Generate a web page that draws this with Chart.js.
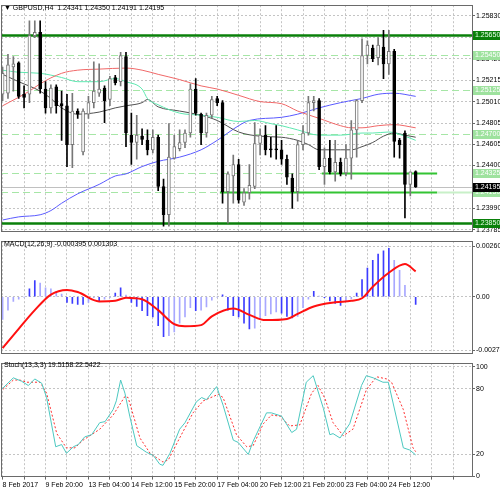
<!DOCTYPE html>
<html>
<head>
<meta charset="utf-8">
<script src="https://cdn.jsdelivr.net/npm/chart.js@4.4.0/dist/chart.umd.min.js"></script>
<style>
  body { margin: 0; background: #fff; }
  #wrap { position: relative; width: 500px; height: 490px; overflow: hidden; font-family: 'Liberation Sans', Arial, sans-serif; }
  canvas { position: absolute; left: 0; }
  .ttl { position: absolute; left: 4px; font-size: 7px; color: #000; white-space: nowrap; }
</style>
</head>
<body>
<div id="wrap">
  <canvas id="main" style="top:0px" width="500" height="236"></canvas>
  <canvas id="macd" style="top:236px" width="500" height="122"></canvas>
  <canvas id="stoch" style="top:358px" width="500" height="132"></canvas>
  <div class="ttl" style="top:4px">&#9660; GBPUSD,H4&nbsp; 1.24341 1.24350 1.24191 1.24195</div>
  <div class="ttl" style="top:240px">MACD(12,26,9) -0.000395 0.001303</div>
  <div class="ttl" style="top:361px">Stoch(13,3,3) 19.5158 22.5422</div>
</div>
<script>
// H4 candles, index 0..77
const candleOpen = [1.2508,1.2509,1.2534,1.2538,1.2508,1.2508,1.2564,1.2567,1.2513,1.2495,
  1.2515,1.2499,1.2497,1.2460,1.2492,1.2453,1.2489,1.2500,1.2509,1.2514,
  1.2503,1.2524,1.2520,1.2544,1.2469,1.2462,1.2468,1.2464,1.2455,1.2467,
  1.2420,1.2393,1.2447,1.2456,1.2462,1.2471,1.2513,1.2489,1.2471,1.2488,
  1.2504,1.2500,1.2415,1.2430,1.2441,1.2405,1.2414,1.2420,1.2461,1.2469,
  1.2456,1.2456,1.2455,1.2446,1.2428,1.2415,1.2460,1.2471,1.2500,1.2502,
  1.2439,1.2447,1.2434,1.2443,1.2433,1.2447,1.2474,1.2502,1.2545,1.2552,
  1.2543,1.2553,1.2537,1.2549,1.2464,1.2471,1.2422,1.24341];
const candleHigh = [1.2534,1.2546,1.2544,1.2539,1.2516,1.2578,1.2578,1.2578,1.2520,1.2517,
  1.2517,1.2511,1.2508,1.2509,1.2494,1.2494,1.2506,1.2539,1.2537,1.2516,
  1.2525,1.2526,1.2548,1.2548,1.2490,1.2488,1.2475,1.2474,1.2474,1.2469,
  1.2427,1.2480,1.2469,1.2474,1.2474,1.2518,1.2523,1.2490,1.2490,1.2506,
  1.2506,1.2502,1.2434,1.2450,1.2446,1.2418,1.2441,1.2481,1.2475,1.2478,
  1.2467,1.2478,1.2464,1.2450,1.2432,1.2464,1.2478,1.2506,1.2506,1.2504,
  1.2457,1.2464,1.2464,1.2447,1.2460,1.2483,1.2503,1.2561,1.2559,1.2555,
  1.2562,1.2569,1.2569,1.2551,1.2466,1.2473,1.2434,1.24350];
const candleLow = [1.2502,1.2504,1.2511,1.2504,1.2495,1.2500,1.2562,1.2509,1.2490,1.2490,
  1.2490,1.2464,1.2439,1.2438,1.2485,1.2450,1.2485,1.2495,1.2506,1.2481,
  1.2497,1.2517,1.2516,1.2458,1.2441,1.2446,1.2460,1.2450,1.2452,1.2416,
  1.2382,1.2382,1.2446,1.2454,1.2457,1.2467,1.2488,1.2460,1.2467,1.2485,
  1.2497,1.2404,1.2385,1.2404,1.2404,1.2402,1.2408,1.2418,1.2450,1.2450,
  1.2448,1.2446,1.2441,1.2422,1.2399,1.2406,1.2455,1.2469,1.2492,1.2436,
  1.2422,1.2432,1.2425,1.2430,1.2430,1.2427,1.2448,1.2500,1.2537,1.2539,
  1.2536,1.2523,1.2527,1.2448,1.2447,1.2390,1.2411,1.24191];
const candleClose = [1.2528,1.2536,1.2537,1.2506,1.2505,1.2564,1.2567,1.2513,1.2495,1.2514,
  1.2497,1.2497,1.2460,1.2492,1.2489,1.2492,1.2500,1.2511,1.2513,1.2502,
  1.2523,1.2519,1.2545,1.2471,1.2462,1.2469,1.2465,1.2455,1.2467,1.2420,
  1.2393,1.2448,1.2458,1.2462,1.2471,1.2513,1.2490,1.2471,1.2488,1.2503,
  1.2500,1.2415,1.2432,1.2441,1.2407,1.2414,1.2421,1.2461,1.2469,1.2455,
  1.2455,1.2455,1.2446,1.2429,1.2415,1.2460,1.2471,1.2500,1.2502,1.2439,
  1.2447,1.2434,1.2443,1.2432,1.2447,1.2474,1.2502,1.2545,1.2555,1.2542,
  1.2555,1.2537,1.2549,1.2463,1.2460,1.2422,1.2434,1.24195];

// moving averages, read at sample candles
const redMaX = [0,5,7,11,14,18,23,26,29,33,37,40,44,48,52,55,59,63,65,67,70,73,77];
const redMa = [1.2497,1.2511,1.2518,1.2528,1.2531,1.2532,1.2533,1.2531,1.2527,1.2522,1.2516,1.2513,1.2507,1.2501,1.2499,1.2492,1.2485,1.2478,1.2476,1.2476,1.2478,1.2479,1.2476];
const aquaMaX = [0,3,7,11,14,18,21,23,26,27,29,33,37,40,44,47,50,52,55,59,63,67,69,72,75,77];
const aquaMa = [1.2531,1.2529,1.2528,1.2524,1.2520,1.2520,1.2523,1.2520,1.2513,1.2504,1.2498,1.2490,1.2488,1.2486,1.2482,1.2483,1.2480,1.2478,1.2474,1.2469,1.2469,1.2471,1.2471,1.2472,1.2468,1.2464];
const blackMaX = [0,3,7,9,11,14,18,21,23,26,27,29,33,37,40,44,48,52,55,57,59,63,65,67,69,71,73,75,77];
const blackMa = [1.2527,1.2520,1.2511,1.2504,1.2495,1.2489,1.2491,1.2495,1.2497,1.2500,1.2503,1.2496,1.2492,1.2488,1.2483,1.2472,1.2468,1.2467,1.2464,1.2460,1.2455,1.2455,1.2455,1.2458,1.2462,1.2468,1.2471,1.2469,1.2467];
const blueMaX = [0,3,7,9,11,14,18,21,23,26,29,33,37,40,44,46,52,55,59,63,66,67,70,73,77];
const blueMa = [1.2388,1.2391,1.2393,1.2397,1.2404,1.2413,1.2422,1.2430,1.2432,1.2439,1.2444,1.2448,1.2455,1.2464,1.2478,1.2483,1.2486,1.2489,1.2495,1.2500,1.2503,1.2504,1.2508,1.2509,1.2506];

// support / resistance levels
const levelPrices = [1.25650, 1.25450, 1.25125, 1.24700, 1.24325, 1.24150, 1.23850];
const priceTicks = [1.25830,1.25625,1.25420,1.25215,1.25010,1.24805,1.24605,1.24400,1.24195,1.23990,1.23785];
const lastPrice = 1.24195;

// MACD
const macdHist = [-0.00117,-0.00069,-0.00024,-0.00013,-0.00002,0.00040,0.00083,0.00070,0.00046,0.00040,
  0.00027,0.00014,-0.00029,-0.00034,-0.00040,-0.00040,-0.00029,-0.00005,-0.00024,-0.00013,
  -0.00005,0.00019,0.00046,0.00008,-0.00029,-0.00050,-0.00072,-0.00098,-0.00104,-0.00149,
  -0.00205,-0.00200,-0.00181,-0.00136,-0.00104,-0.00056,-0.00072,-0.00069,-0.00053,-0.00018,
  -0.00002,0.00010,-0.00069,-0.00098,-0.00104,-0.00136,-0.00165,-0.00162,-0.00114,-0.00098,
  -0.00088,-0.00078,-0.00085,-0.00101,-0.00109,-0.00101,-0.00056,-0.00013,0.00027,0.00003,
  -0.00005,-0.00021,-0.00034,-0.00045,-0.00021,-0.00010,0.00019,0.00088,0.00147,0.00187,
  0.00219,0.00235,0.00248,0.00187,0.00136,0.00059,0.00003,-0.000395];
const macdSignalX = [0,3,6,9,12,14,18,21,23,26,29,32,34,37,39,43,46,49,53,55,58,62,65,67,69,72,75,77];
const macdSignal = [-0.00264,-0.00165,-0.00069,0.00011,0.00035,0.00024,-0.00024,-0.00021,-0.00005,-0.00013,-0.00069,-0.00141,-0.00152,-0.00146,-0.00101,-0.00061,-0.00093,-0.00120,-0.00114,-0.00088,-0.00050,-0.00029,-0.00021,-0.00008,0.00051,0.00123,0.00168,0.00130];
const macdTicks = [0.002602, 0, -0.002746];

// Stochastic
const stochKX = [-0.5,2.0,3.5,4.8,6.0,7.3,8.2,9.9,11.0,11.9,13.2,14.1,15.3,16.6,18.1,19.1,20.6,21.2,22.0,22.8,23.7,25.0,26.8,28.1,29.3,29.9,31.2,33.0,34.0,36.1,37.1,38.0,39.9,41.1,43.0,43.9,45.8,46.7,49.2,50.1,52.0,53.9,54.8,56.6,57.9,59.8,61.0,61.6,62.9,64.7,66.9,67.8,69.1,70.9,71.9,74.7,75.9,77];
const stochK = [78,90,87,83,89,85,72,27,29,21,27,29,36,38,49,50,61,69,88,76,55,28,22,19,11,10,21,43,49,68,72,70,82,65,33,31,20,32,58,58,55,40,43,86,92,62,38,39,35,48,83,92,90,86,86,26,24,19.5];
const stochDX = [-0.5,2.0,3.2,4.5,7.0,8.2,10.1,11.9,13.5,15.0,18.1,20.6,22.8,23.4,25.6,27.5,29.9,30.9,33.0,35.5,37.4,39.3,40.2,41.1,43.6,45.5,46.7,48.6,50.1,51.7,53.5,55.4,57.6,58.8,60.1,61.6,63.5,65.3,67.8,69.7,71.6,72.5,74.7,76.5,77];
const stochD = [77,88,88,86,86,76,39,26,26,33,43,56,73,72,35,21,13,15,35,58,69,73,75,72,38,27,28,48,56,55,46,47,76,83,71,49,37,43,79,91,89,86,61,26,22.5];
const stochTicks = [100, 80, 20, 0];

const timeLabels = ['8 Feb 2017','9 Feb 20:00','13 Feb 04:00','14 Feb 12:00','15 Feb 20:00','17 Feb 04:00','20 Feb 12:00','21 Feb 20:00','23 Feb 04:00','24 Feb 12:00'];

const X_MIN = -0.3, X_MAX = 87.5;
const FONT = { family: "'Liberation Sans', Arial, sans-serif", size: 7 };

const pts = (xs, ys) => xs.map((x, i) => ({ x: x, y: ys[i] }));
const idx = candleOpen.map((v, i) => i);
const isBull = i => candleClose[i] >= candleOpen[i];

const framePlugin = {
  id: 'frame',
  afterDraw(chart) {
    const a = chart.chartArea, ctx = chart.ctx;
    ctx.save();
    ctx.strokeStyle = '#6a6a6a';
    ctx.lineWidth = 1;
    ctx.strokeRect(Math.round(a.left) + 0.5, Math.round(a.top) + 0.5, Math.round(a.right - a.left), Math.round(a.bottom - a.top));
    ctx.restore();
  }
};

function xAxis(showLabels) {
  return {
    type: 'linear', min: X_MIN, max: X_MAX, offset: false,
    afterBuildTicks: s => { const t = []; for (let v = 0; v <= 84; v += 4) t.push({ value: v }); s.ticks = t; },
    grid: { color: '#c4c4c4', drawTicks: showLabels, tickLength: 3, tickColor: '#666', offset: false },
    border: { display: false, dash: [2, 2] },
    ticks: {
      display: showLabels, autoSkip: false, maxRotation: 0, align: 'start', padding: 1,
      color: '#000', font: FONT,
      callback: v => (v % 8 === 0 ? (timeLabels[v / 8] || '') : '')
    }
  };
}

function yAxis(min, max, tickList, fmt) {
  return {
    position: 'right', min: min, max: max,
    afterBuildTicks: s => { s.ticks = tickList.map(v => ({ value: v })); },
    afterFit: s => { s.width = 28; },
    grid: { color: '#c4c4c4', tickLength: 3, tickColor: '#666' },
    border: { display: false, dash: [2, 2] },
    ticks: { color: '#000', font: FONT, padding: 1, callback: fmt }
  };
}

// level lines and price tags on the main pane
const levelsPlugin = {
  id: 'levels',
  beforeDatasetsDraw(chart) {
    const ctx = chart.ctx, xs = chart.scales.x, ys = chart.scales.y, a = chart.chartArea;
    const line = (p, x0, x1, color, w, dash) => {
      const y = Math.round(ys.getPixelForValue(p)) + 0.5;
      ctx.save();
      ctx.beginPath();
      ctx.strokeStyle = color; ctx.lineWidth = w; ctx.setLineDash(dash);
      ctx.moveTo(x0, y); ctx.lineTo(x1, y); ctx.stroke();
      ctx.restore();
    };
    const solidFrom = [null, null, null, null, 59.5, 40.5, null];
    levelPrices.forEach((p, k) => {
      if (k === 0 || k === 6) { line(p, a.left, a.right, '#0a800a', 2.5, []); return; }
      if (solidFrom[k] === null) { line(p, a.left, a.right, '#a6e6a6', 1, [7, 4]); return; }
      const xs0 = xs.getPixelForValue(solidFrom[k]), xs1 = xs.getPixelForValue(81);
      line(p, a.left, xs0, '#a6e6a6', 1, [7, 4]);
      line(p, xs0, xs1, '#33c433', 2, []);
      if (k === 5) line(p, xs1, a.right, '#c8f0c8', 2, []);
    });
    line(lastPrice, a.left, a.right, '#c0c0c0', 1, []);
  },
  afterDraw(chart) {
    const ctx = chart.ctx, ys = chart.scales.y, a = chart.chartArea;
    const tag = (p, bg, fg) => {
      const y = Math.round(ys.getPixelForValue(p));
      ctx.save();
      ctx.fillStyle = bg;
      ctx.fillRect(a.right + 1, y - 4, 27, 9);
      ctx.fillStyle = fg;
      ctx.font = "7px 'Liberation Sans', Arial, sans-serif";
      ctx.textBaseline = 'middle';
      ctx.fillText(p.toFixed(5), a.right + 3, y + 0.5);
      ctx.restore();
    };
    levelPrices.forEach((p, k) => {
      const dark = (k === 0 || k === 6);
      tag(p, dark ? '#0a800a' : '#9ee29e', dark ? '#e8ffe8' : '#ffffff');
    });
    tag(lastPrice, '#000000', '#ffffff');
  }
};

new Chart(document.getElementById('main'), {
  type: 'bar',
  data: {
    datasets: [
      { type: 'line', data: pts(redMaX, redMa), borderColor: '#f06868', borderWidth: 1, pointRadius: 0, cubicInterpolationMode: 'monotone', order: 5 },
      { type: 'line', data: pts(aquaMaX, aquaMa), borderColor: '#5ee8b0', borderWidth: 1, pointRadius: 0, cubicInterpolationMode: 'monotone', order: 5 },
      { type: 'line', data: pts(blackMaX, blackMa), borderColor: '#505050', borderWidth: 1, pointRadius: 0, cubicInterpolationMode: 'monotone', order: 5 },
      { type: 'line', data: pts(blueMaX, blueMa), borderColor: '#5a5aff', borderWidth: 1, pointRadius: 0, cubicInterpolationMode: 'monotone', order: 5 },
      { data: idx.map(i => ({ x: i, y: [candleLow[i], candleHigh[i]] })), barThickness: 1, grouped: false,
        backgroundColor: idx.map(i => isBull(i) ? '#777' : '#000'), order: 2 },
      { data: idx.map(i => ({ x: i, y: [candleOpen[i], candleClose[i]] })), barThickness: 3, grouped: false,
        backgroundColor: idx.map(i => isBull(i) ? '#ffffff' : '#000000'),
        borderColor: idx.map(i => isBull(i) ? '#777' : '#000'), borderWidth: 1, borderSkipped: false, order: 1 }
    ]
  },
  options: {
    responsive: false, animation: false, events: [],
    layout: { padding: { top: 2, left: 1, bottom: 2, right: 0 } },
    plugins: { legend: { display: false }, tooltip: { enabled: false } },
    scales: {
      x: xAxis(false),
      y: yAxis(1.23777, 1.25930, priceTicks, v => v.toFixed(5))
    }
  },
  plugins: [levelsPlugin, framePlugin]
});

new Chart(document.getElementById('macd'), {
  type: 'bar',
  data: {
    datasets: [
      { type: 'line', data: pts(macdSignalX, macdSignal), borderColor: '#ff1010', borderWidth: 2, pointRadius: 0, cubicInterpolationMode: 'monotone', order: 1 },
      { data: idx.map(i => ({ x: i, y: macdHist[i] })), barThickness: 1, grouped: false,
        backgroundColor: idx.map(i => (i > 0 && Math.abs(macdHist[i]) >= Math.abs(macdHist[i - 1])) ? '#3c3cff' : '#a8a8ff'), order: 2 }
    ]
  },
  options: {
    responsive: false, animation: false, events: [],
    layout: { padding: { top: 1, left: 1, bottom: 1, right: 0 } },
    plugins: { legend: { display: false }, tooltip: { enabled: false } },
    scales: {
      x: xAxis(false),
      y: yAxis(-0.00288, 0.00285, macdTicks, v => (v === 0 ? '0.00' : v.toFixed(6)))
    }
  },
  plugins: [framePlugin]
});

new Chart(document.getElementById('stoch'), {
  type: 'line',
  data: {
    datasets: [
      { data: pts(stochKX, stochK), borderColor: '#4cc8c0', borderWidth: 1, pointRadius: 0 },
      { data: pts(stochDX, stochD), borderColor: '#ff3030', borderWidth: 1, borderDash: [2, 2], pointRadius: 0 }
    ]
  },
  options: {
    responsive: false, animation: false, events: [],
    layout: { padding: { top: 1, left: 1, bottom: 0, right: 0 } },
    plugins: { legend: { display: false }, tooltip: { enabled: false } },
    scales: {
      x: xAxis(true),
      y: yAxis(-0.3, 103.4, stochTicks, v => String(v))
    }
  },
  plugins: [framePlugin]
});
</script>
</body>
</html>
